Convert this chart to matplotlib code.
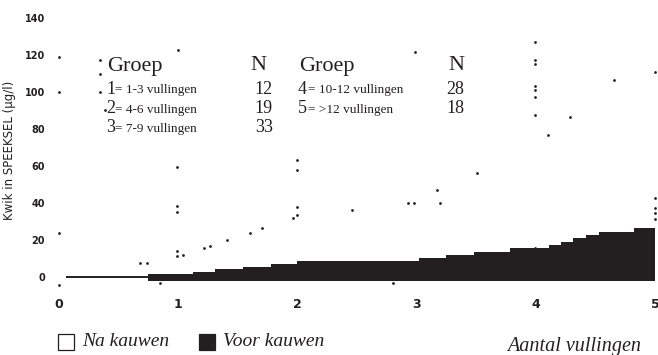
import matplotlib
matplotlib.use("Agg")
import matplotlib.pyplot as plt
from matplotlib.patches import Rectangle

# Voor kauwen: stepped level per group of fillings
step_edges = [0.06, 0.75, 1.12, 1.31, 1.54, 1.78, 2.00, 3.02, 3.25, 3.48,
              3.78, 4.11, 4.21, 4.31, 4.42, 4.53, 4.82, 5.00]
voor_levels = [0.0, 1.5, 2.7, 4.3, 5.6, 6.9, 8.7, 10.1, 11.9, 13.7,
               15.5, 17.3, 19.1, 20.9, 22.7, 24.5, 26.4]
voor_base = -2.3

# Na kauwen: individual measurements
na_x = [0.00, 0.00, 0.00, 0.00, 0.34, 0.34, 0.34, 0.39, 0.68, 0.74,
        1.00, 0.99, 0.99, 0.99, 0.99, 0.99, 1.04, 1.22, 1.27, 1.41,
        1.60, 1.70, 1.96, 2.00, 2.00, 2.00, 2.00, 2.46, 2.93, 2.98,
        2.99, 3.17, 3.20, 3.51, 3.99, 3.99, 3.99, 3.99, 3.99, 3.99,
        3.99, 4.29, 4.10, 4.66, 5.00, 3.99, 5.00, 5.00, 5.00, 5.00,
        0.85, 2.80]
na_y = [119.0, 100.0, 23.8, -4.3, 117.4, 109.8, 100.1, 90.4, 7.7, 7.7,
        123.0, 59.3, 38.4, 35.2, 14.1, 11.4, 11.9, 15.9, 16.9, 19.9,
        24.0, 26.7, 32.1, 33.5, 37.6, 63.3, 57.9, 36.3, 40.2, 40.2,
        121.8, 47.1, 40.2, 56.4, 127.0, 117.4, 115.1, 103.4, 101.2, 97.2,
        87.7, 86.4, 76.8, 106.6, 110.8, 15.9, 42.7, 37.5, 34.5, 31.5,
        -3.3, -3.5]

x_ticks = [0, 1, 2, 3, 4, 5]
y_ticks = [0, 20, 40, 60, 80, 100, 120, 140]

groups_left = [("1", "= 1-3 vullingen", "12"),
               ("2", "= 4-6 vullingen", "19"),
               ("3", "= 7-9 vullingen", "33")]
groups_right = [("4", "= 10-12 vullingen", "28"),
                ("5", "= >12 vullingen", "18")]

W, H = 658, 355
fig = plt.figure(figsize=(W / 100, H / 100), dpi=100)
ax = fig.add_axes([59 / W, 1 - 286.2 / H, 596 / W, (286.2 - 18.3) / H])
ax.set_xlim(0, 5)
ax.set_ylim(-5, 140)

ink = "#231f20"
serif = "Liberation Serif"

# stepped area for "Voor kauwen"
ax.hlines(voor_levels[0], step_edges[0], step_edges[1], color=ink, lw=1.4)
ax.fill_between(step_edges[1:], voor_base, voor_levels[1:] + [voor_levels[-1]],
                step="post", color=ink, lw=0, clip_on=False)

# dots for "Na kauwen"
ax.plot(na_x, na_y, "o", color=ink, ms=2.0, mew=0, clip_on=False)

for s in ax.spines.values():
    s.set_visible(False)
ax.set_xticks(x_ticks)
ax.set_yticks(y_ticks)
ax.tick_params(length=0)
ax.tick_params(axis="x", pad=8.5, labelsize=9)
ax.tick_params(axis="y", pad=10, labelsize=7)
for lab in ax.get_xticklabels() + ax.get_yticklabels():
    lab.set_fontweight("bold")
    lab.set_color(ink)

fig.text(10 / W, 1 - 150 / H, "Kwik in SPEEKSEL (µg/l)", rotation=90,
         ha="center", va="center", fontsize=8.5, color=ink)


def px(x, y):
    return x / W, 1 - y / H


# group table
head = dict(fontsize=16, family=serif, va="center", color=ink)
fig.text(*px(107, 66), "Groep", **head)
fig.text(*px(258, 66), "N", ha="center", **head)
fig.text(*px(299, 66), "Groep", **head)
fig.text(*px(456, 66), "N", ha="center", **head)

for i, (g, desc, n) in enumerate(groups_left):
    y = 89 + i * 19.5
    fig.text(*px(106, y), g, fontsize=13, family=serif, va="center", color=ink)
    fig.text(*px(115, y + 1), desc, fontsize=9.5, family=serif, va="center", color=ink)
    fig.text(*px(273, y), n, fontsize=13, family=serif, va="center", ha="right", color=ink)
for i, (g, desc, n) in enumerate(groups_right):
    y = 89 + i * 19.5
    fig.text(*px(298, y), g, fontsize=13, family=serif, va="center", color=ink)
    fig.text(*px(308, y + 1), desc, fontsize=9.5, family=serif, va="center", color=ink)
    fig.text(*px(464, y), n, fontsize=13, family=serif, va="center", ha="right", color=ink)

# legend
sq = 16
fig.add_artist(Rectangle(px(58, 334 + sq), sq / W, sq / H, transform=fig.transFigure,
                         facecolor="white", edgecolor=ink, lw=0.9))
fig.text(*px(82, 342), "Na kauwen", fontsize=14, family=serif, style="italic",
         va="center", color=ink)
fig.add_artist(Rectangle(px(199, 334 + sq), sq / W, sq / H, transform=fig.transFigure,
                         facecolor=ink, edgecolor=ink, lw=0.9))
fig.text(*px(223, 342), "Voor kauwen", fontsize=14, family=serif, style="italic",
         va="center", color=ink)
fig.text(*px(574, 346), "Aantal vullingen", fontsize=14.5, family=serif, style="italic",
         va="center", ha="center", color=ink)

fig.savefig("out.png", dpi=100, facecolor="white")
